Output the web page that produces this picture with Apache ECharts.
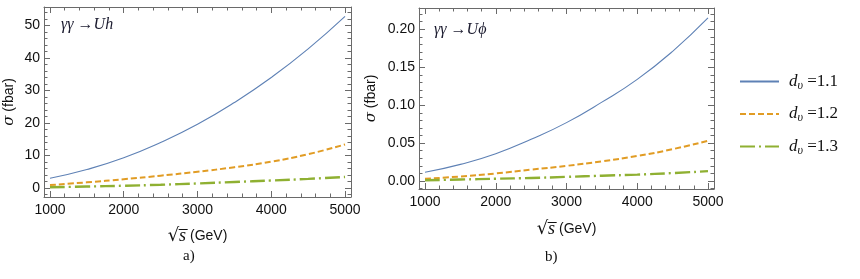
<!DOCTYPE html>
<html>
<head>
<meta charset="utf-8">
<script src="https://cdn.jsdelivr.net/npm/echarts@6/dist/echarts.min.js"></script>
<style>
html,body{margin:0;padding:0;background:#fff;}
#chart{width:860px;height:279px;}
</style>
</head>
<body>
<div id="chart"></div>
<script>
// ---- data ----
const energy = [1000, 1500, 2000, 2500, 3000, 3500, 4000, 4500, 5000];
// panel a) gamma gamma -> U h  (fbar)
const uhDv11 = [3.0, 5.7, 9.3, 14.0, 19.6, 26.3, 34.0, 42.8, 52.8];
const uhDv12 = [0.9, 1.75, 2.7, 3.8, 5.0, 6.4, 8.1, 10.4, 13.4];
const uhDv13 = [0.25, 0.45, 0.7, 1.0, 1.4, 1.85, 2.3, 2.8, 3.4];
// panel b) gamma gamma -> U phi (fbar)
const uphiDv11 = [0.0115, 0.022, 0.036, 0.055, 0.077, 0.104, 0.134, 0.171, 0.215];
const uphiDv12 = [0.003, 0.006, 0.010, 0.015, 0.020, 0.026, 0.033, 0.042, 0.053];
const uphiDv13 = [0.001, 0.002, 0.003, 0.004, 0.0055, 0.007, 0.0085, 0.0105, 0.013];
const seriesNames = ['d_v = 1.1', 'd_v = 1.2', 'd_v = 1.3'];
const legendValues = ['1.1', '1.2', '1.3'];
// tick labels
const xMajorTicks = [1000, 2000, 3000, 4000, 5000];
const xMinorTicks = [1200, 1400, 1600, 1800, 2200, 2400, 2600, 2800, 3200, 3400, 3600, 3800, 4200, 4400, 4600, 4800];
const yMajorTicksA = [0, 10, 20, 30, 40, 50];
const yMinorTicksA = [-2, 2, 4, 6, 8, 12, 14, 16, 18, 22, 24, 26, 28, 32, 34, 36, 38, 42, 44, 46, 48, 52, 54];
const yMajorTicksB = [0, 0.05, 0.10, 0.15, 0.20];
const yMinorTicksB = [-0.01, 0.01, 0.02, 0.03, 0.04, 0.06, 0.07, 0.08, 0.09, 0.11, 0.12, 0.13, 0.14, 0.16, 0.17, 0.18, 0.19, 0.21, 0.22];

// ---- styles ----
const colors = ['#5E81B5', '#E19C24', '#8FB032'];
const lineStyles = [
  {width: 1.1, type: 'solid'},
  {width: 2, type: [6, 3]},
  {width: 2.4, type: [15, 4, 2, 4]}
];
const frameColor = '#6a6a6a';
const labelFont = {color: '#111', fontFamily: 'Liberation Sans, Arial, sans-serif', fontSize: 14};

function pairs(xs, ys) { return xs.map((x, i) => [x, ys[i]]); }

function makeAxes(kind, gridIndex, range, major, minor, fmt, nameCfg) {
  const pos = kind === 'x' ? ['bottom', 'top'] : ['left', 'right'];
  const axes = [];
  pos.forEach((p, k) => {
    const a = {
      type: 'value', gridIndex: gridIndex, position: p, min: range[0], max: range[1],
      axisLine: {show: true, onZero: false, lineStyle: {color: frameColor, width: 1}},
      axisTick: {show: true, inside: true, length: 6, customValues: major, lineStyle: {color: frameColor}},
      axisLabel: {show: k === 0, customValues: major, margin: kind === 'x' ? 6 : 4, formatter: fmt, ...labelFont},
      splitLine: {show: false}
    };
    if (k === 0 && nameCfg) Object.assign(a, nameCfg);
    axes.push(a);
    axes.push({
      type: 'value', gridIndex: gridIndex, position: p, min: range[0], max: range[1],
      axisLine: {show: false, onZero: false},
      axisTick: {show: true, inside: true, length: 3.5, customValues: minor, lineStyle: {color: frameColor}},
      axisLabel: {show: false},
      splitLine: {show: false}
    });
  });
  return axes;
}

const xNameCfg = (gap) => ({
  name: '{r|√}{s|s̅}{u| (GeV)}', nameLocation: 'middle', nameGap: gap,
  nameTextStyle: {
    rich: {
      r: {fontFamily: 'DejaVu Sans', fontSize: 18, color: '#111'},
      s: {fontFamily: 'Liberation Serif', fontStyle: 'italic', fontSize: 18, color: '#111'},
      u: {fontFamily: 'Liberation Sans', fontSize: 14, color: '#111'}
    }
  }
});
const yNameCfg = (gap) => ({
  name: '{g|σ}{u| (fbar)}', nameLocation: 'middle', nameGap: gap, nameRotate: 90,
  nameTextStyle: {
    rich: {
      g: {fontFamily: 'DejaVu Serif', fontStyle: 'italic', fontSize: 15, color: '#111'},
      u: {fontFamily: 'Liberation Sans', fontSize: 14, color: '#111'}
    }
  }
});

const fmtA = v => String(Math.round(v));
const fmtB = v => v.toFixed(2);

const xAxes = [
  ...makeAxes('x', 0, [919, 5081], xMajorTicks, xMinorTicks, fmtA, xNameCfg(30)),
  ...makeAxes('x', 1, [915, 5085], xMajorTicks, xMinorTicks, fmtA, xNameCfg(31))
];
const yAxes = [
  ...makeAxes('y', 0, [-2.77, 55.7], yMajorTicksA, yMinorTicksA, fmtA, yNameCfg(27)),
  ...makeAxes('y', 1, [-0.0105, 0.2281], yMajorTicksB, yMinorTicksB, fmtB, yNameCfg(40))
];

const dataA = [uhDv11, uhDv12, uhDv13];
const dataB = [uphiDv11, uphiDv12, uphiDv13];
const series = [];
[dataA, dataB].forEach((set, g) => {
  set.forEach((ys, i) => {
    series.push({
      type: 'line', name: seriesNames[i], xAxisIndex: g * 4, yAxisIndex: g * 4,
      data: pairs(energy, ys), smooth: 0.5, symbol: 'none', showSymbol: false,
      color: colors[i], lineStyle: {color: colors[i], ...lineStyles[i]},
      animation: false, silent: true
    });
  });
});

const chart = echarts.init(document.getElementById('chart'), null, {renderer: 'canvas'});
chart.setOption({
  animation: false,
  backgroundColor: '#fff',
  grid: [
    {left: 44, top: 7, width: 307, height: 190, containLabel: false},
    {left: 419, top: 8, width: 295, height: 181, containLabel: false}
  ],
  xAxis: xAxes,
  yAxis: yAxes,
  legend: {
    orient: 'vertical', left: 734, top: 68, itemWidth: 39, itemHeight: 14, itemGap: 14,
    data: seriesNames, selectedMode: false,
    itemStyle: {opacity: 0},
    formatter: name => '{d|d}{v|υ}{t| =' + legendValues[seriesNames.indexOf(name)] + '}',
    textStyle: {
      padding: [0, 0, 0, 5],
      rich: {
        d: {fontFamily: 'Liberation Serif', fontStyle: 'italic', fontSize: 17, color: '#111'},
        v: {fontFamily: 'Liberation Serif', fontStyle: 'italic', fontSize: 12, color: '#111', padding: [8, 0, 0, 0]},
        t: {fontFamily: 'Liberation Serif', fontSize: 17, color: '#111'}
      }
    }
  },
  graphic: [
    {type: 'text', left: 61, top: 17, style: {text: 'γγ →Uh', font: 'italic 16px "Liberation Serif"', fill: '#1a1a2e'}},
    {type: 'text', left: 434, top: 22, style: {text: 'γγ →Uϕ', font: 'italic 16px "Liberation Serif"', fill: '#1a1a2e'}},
    {type: 'text', left: 183, top: 249, style: {text: 'a)', font: '15px "Liberation Serif"', fill: '#111'}},
    {type: 'text', left: 545, top: 250, style: {text: 'b)', font: '15px "Liberation Serif"', fill: '#111'}}
  ],
  series: series
});
</script>
</body>
</html>
